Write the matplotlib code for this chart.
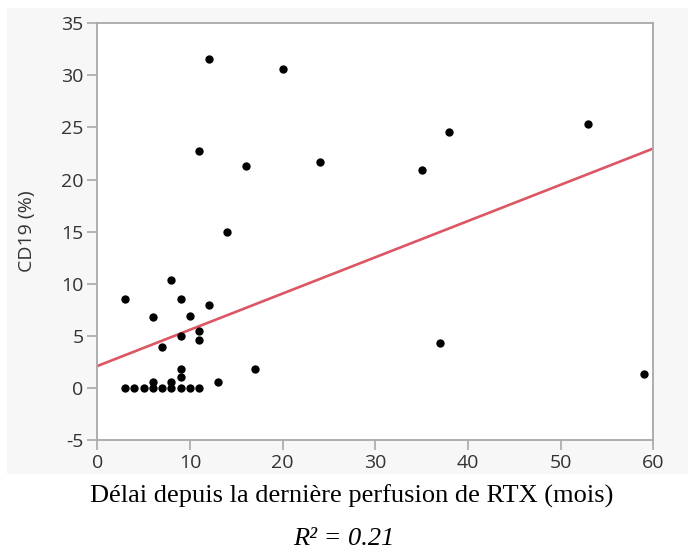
import matplotlib
matplotlib.use('Agg')
import matplotlib.pyplot as plt
from matplotlib.patches import Rectangle

plt.rcParams['axes.unicode_minus'] = False

# delay since last RTX infusion (months) and CD19 (%)
delai = [3, 4, 5, 6, 7, 8, 9, 10, 11,
         6, 8, 9, 9, 13, 17,
         3, 6, 8, 7, 9, 9, 10, 11, 11, 12,
         14, 12, 11, 16, 20, 24, 35, 38, 53, 37, 59]
cd19 = [0, 0, 0, 0, 0, 0, 0, 0, 0,
        0.6, 0.6, 1.0, 1.8, 0.6, 1.8,
        8.5, 6.8, 10.4, 3.9, 8.5, 5.0, 6.9, 5.5, 4.6, 8.0,
        15.0, 31.6, 22.7, 21.3, 30.6, 21.7, 20.9, 24.6, 25.3, 4.3, 1.3]

# fitted line
fit_intercept = 2.1
fit_slope = 0.348
r2_text = "R² = 0.21"

W, H = 688, 558
fig = plt.figure(figsize=(W / 100, H / 100), dpi=100)
fig.patch.set_facecolor('white')

# light grey panel behind the plot
fig.patches.append(Rectangle((7 / W, (H - 474) / H), 1 - 7 / W, (474 - 8) / H,
                             transform=fig.transFigure, facecolor='#f7f7f7',
                             edgecolor='none', zorder=-10))

ax = fig.add_axes([97.3 / W, (H - 440) / H, (653.3 - 97.3) / W, (440 - 23.3) / H])
ax.set_zorder(1)
ax.set_facecolor('white')

ax.scatter(delai, cd19, s=36, color='black', zorder=3, linewidths=0)

xl = [0, 60]
ax.plot(xl, [fit_intercept + fit_slope * v for v in xl], color='#dc5663', lw=1.9, zorder=2)

ax.set_xlim(0, 60)
ax.set_ylim(-5, 35)
ax.set_xticks(range(0, 61, 10))
ax.set_yticks(range(-5, 36, 5))

for s in ax.spines.values():
    s.set_color('#a8a8a8')
    s.set_linewidth(1.3)

ax.tick_params(direction='out', length=7, width=1.2, color='#a8a8a8',
               labelcolor='#333333', labelsize=14, pad=3)
for lab in ax.get_xticklabels() + ax.get_yticklabels():
    lab.set_family(['Open Sans', 'DejaVu Sans'])

ax.set_ylabel('CD19 (%)', fontsize=14, color='#333333', family=['Open Sans', 'DejaVu Sans'])
ax.yaxis.set_label_coords(-0.11, 0.5)

fig.text(352 / W, 1 - 496 / H, 'Délai depuis la dernière perfusion de RTX (mois)',
         ha='center', va='center', fontsize=19, family='Liberation Serif', color='black')
fig.text(344 / W, 1 - 539 / H, r2_text, ha='center', va='center', fontsize=19,
         family='Liberation Serif', style='italic', color='black')

fig.savefig('out.png', dpi=100)
